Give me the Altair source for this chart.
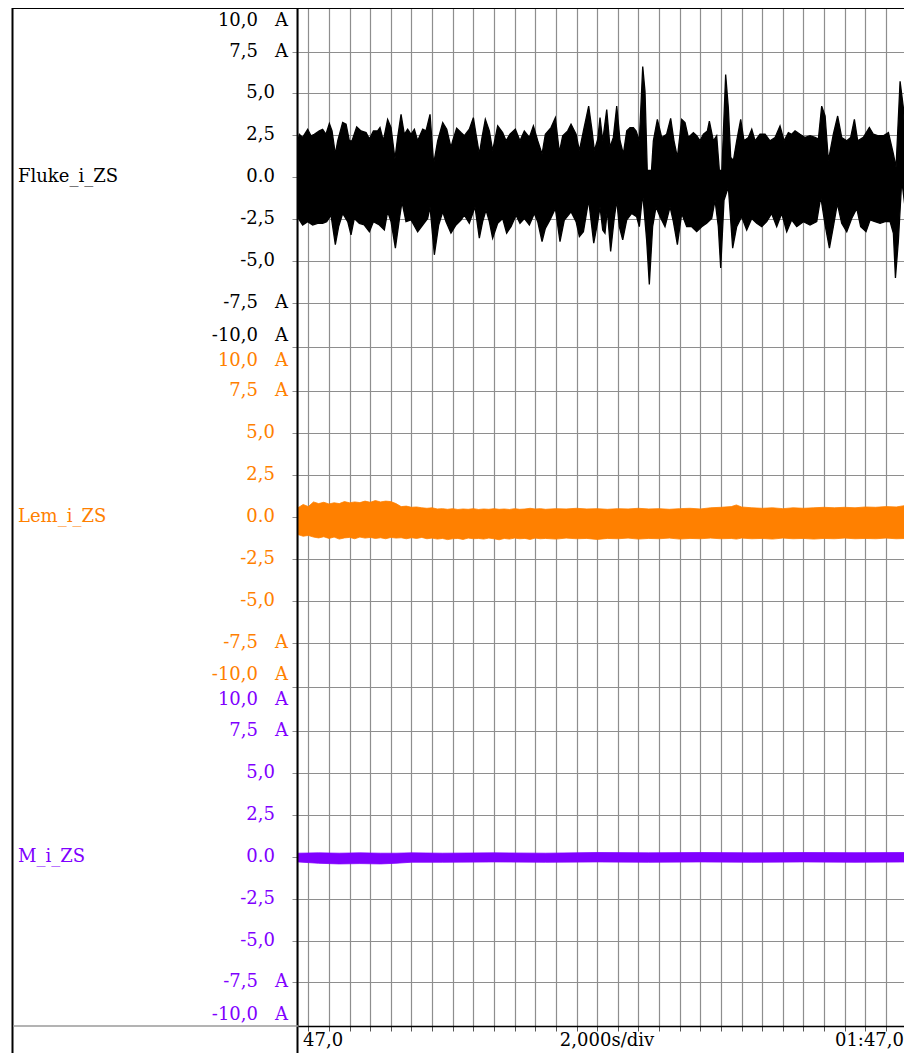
import altair as alt
import pandas as pd

FONT = "DejaVu Serif"
FS = 18
GRID = "#8e8e8e"

# ---------------- channels / layout ----------------
channel_names = ["Fluke_i_ZS", "Lem_i_ZS", "M_i_ZS"]
channel_colors = ["#000000", "#FF8000", "#8000FF"]
panel_zero = [50.7, 30.4, 10.1]      # stacked panels on one shared y scale
panel_bounds = [40.55, 20.25]
Y_TOP = 60.8
T_START, T_END = 46.0, 104.75        # seconds (visible window)
grid_times = list(range(47, 105, 2))  # 2 s / div

tick_values = [10, 7.5, 5, 2.5, 0, -2.5, -5, -7.5, -10]
tick_labels = ["10,0", "7,5", "5,0", "2,5", "0.0", "-2,5", "-5,0", "-7,5", "-10,0"]
unit_label = "A"
x_labels = ["47,0", "2,000s/div", "01:47,0"]

# ---------------- Fluke_i_ZS envelope (time s, current A) ----------------
fluke_upper = [
    (46.0, 2.2), (46.13, 2.56), (46.45, 2.37), (46.94, 2.86), (47.26, 2.47), (47.58, 2.56),
    (48.07, 2.76), (48.39, 2.86), (48.71, 2.56), (49.04, 3.20), (49.30, 2.76), (49.62, 1.38),
    (49.85, 2.17), (50.33, 3.26), (50.66, 3.16), (50.98, 2.17), (51.24, 2.17), (51.69, 3.00),
    (52.11, 2.76), (52.60, 2.66), (52.92, 2.27), (53.31, 2.76), (53.72, 2.76), (53.95, 2.96),
    (54.27, 2.17), (54.69, 3.45), (55.02, 2.96), (55.40, 1.09), (55.66, 2.37), (55.99, 3.75),
    (56.31, 2.56), (56.63, 2.86), (56.96, 2.56), (57.28, 2.86), (57.60, 2.17), (58.09, 2.86),
    (58.41, 2.76), (58.80, 3.75), (59.15, 0.79), (59.54, 2.17), (60.03, 3.26), (60.42, 2.86),
    (60.83, 1.78), (61.00, 2.17), (61.38, 2.92), (61.80, 2.66), (62.13, 2.47), (62.61, 2.86),
    (63.00, 3.55), (63.26, 2.56), (63.58, 1.38), (63.84, 2.37), (64.16, 3.45), (64.55, 2.76),
    (64.87, 1.58), (65.36, 3.06), (65.84, 2.66), (66.17, 2.17), (66.55, 2.56), (67.07, 2.86),
    (67.52, 2.17), (67.94, 2.76), (68.43, 2.37), (68.82, 3.06), (69.24, 2.17), (69.66, 1.38),
    (69.98, 2.56), (70.53, 2.96), (70.95, 3.55), (71.34, 1.48), (71.66, 2.47), (72.15, 2.76),
    (72.47, 3.16), (72.96, 2.56), (73.28, 1.58), (73.67, 2.76), (74.18, 4.24), (74.51, 2.76),
    (74.73, 1.58), (75.06, 2.27), (75.28, 3.55), (75.54, 2.17), (75.93, 4.04), (76.25, 1.78),
    (76.57, 2.37), (76.90, 4.24), (77.22, 2.17), (77.54, 1.38), (77.87, 2.76), (78.19, 2.96),
    (78.51, 2.96), (78.77, 2.76), (79.09, 2.17), (79.42, 6.61), (79.64, 5.13), (79.87, 0.20),
    (80.13, -0.99), (80.45, 2.17), (80.84, 3.45), (81.26, 2.37), (81.74, 2.56), (82.13, 3.51),
    (82.45, 2.17), (82.78, 1.18), (83.20, 3.45), (83.52, 3.26), (83.84, 2.37), (84.33, 2.66),
    (84.65, 2.47), (84.98, 2.17), (85.30, 2.56), (85.69, 2.76), (85.88, 3.35), (86.27, 2.17),
    (86.59, 2.47), (86.85, 0.39), (87.08, 0.20), (87.46, 6.12), (87.72, 4.14), (87.95, 1.18),
    (88.21, 0.99), (88.53, 2.17), (88.92, 3.45), (89.24, 2.17), (89.66, 2.37), (89.99, 2.86),
    (90.31, 2.17), (90.79, 2.56), (91.28, 2.56), (91.76, 2.17), (92.25, 2.37), (92.73, 3.06),
    (93.12, 2.17), (93.54, 2.66), (93.86, 2.56), (94.19, 2.76), (94.67, 2.56), (95.16, 2.37),
    (95.64, 2.47), (96.13, 2.37), (96.45, 2.27), (96.77, 4.24), (97.10, 3.65), (97.42, 0.99),
    (97.90, 2.56), (98.32, 3.65), (98.71, 2.37), (99.20, 2.17), (99.58, 2.37), (99.94, 3.45),
    (100.26, 2.17), (100.81, 2.37), (101.39, 2.96), (101.78, 2.56), (102.27, 2.47), (102.75, 2.47),
    (103.24, 2.66), (103.72, 1.38), (103.98, 0.59), (104.37, 5.72), (104.69, 4.14), (104.95, 0.99),
    (105.34, 1.97), (105.53, 2.17),
]
fluke_lower = [
    (46.0, -2.4), (46.13, -2.56), (46.45, -2.86), (46.94, -2.66), (47.42, -2.86), (47.91, -2.76),
    (48.39, -2.76), (48.78, -2.66), (49.20, -2.27), (49.62, -4.04), (49.94, -2.96), (50.33, -2.17),
    (50.82, -2.66), (51.14, -3.45), (51.46, -2.47), (51.95, -2.76), (52.43, -2.86), (52.92, -3.26),
    (53.31, -2.66), (53.89, -2.86), (54.37, -3.16), (54.69, -2.07), (55.02, -2.66), (55.44, -4.24),
    (55.82, -2.56), (56.08, -1.48), (56.47, -2.66), (56.96, -2.56), (57.60, -3.26), (58.09, -2.86),
    (58.57, -2.47), (58.80, -1.78), (59.22, -4.64), (59.64, -2.86), (60.03, -2.07), (60.35, -2.66),
    (60.83, -3.35), (61.32, -2.86), (61.80, -2.56), (62.13, -2.27), (62.61, -2.76), (63.16, -1.78),
    (63.58, -3.65), (63.90, -2.66), (64.23, -1.97), (64.55, -2.66), (64.87, -3.65), (65.36, -2.76),
    (65.84, -2.47), (66.23, -3.35), (66.65, -2.96), (67.14, -2.27), (67.52, -2.76), (67.94, -2.47),
    (68.43, -2.86), (68.91, -2.17), (69.24, -2.66), (69.66, -3.85), (69.98, -3.06), (70.43, -2.56),
    (70.95, -1.87), (71.40, -3.85), (71.82, -2.56), (72.47, -2.07), (72.96, -2.66), (73.28, -3.55),
    (73.67, -3.26), (74.18, -1.38), (74.67, -3.95), (75.06, -2.66), (75.28, -1.78), (75.54, -3.16),
    (75.76, -3.35), (75.99, -1.97), (76.31, -4.44), (76.64, -2.56), (76.90, -1.38), (77.15, -2.96),
    (77.48, -3.75), (77.87, -2.56), (78.35, -2.17), (78.83, -2.37), (79.09, -2.96), (79.42, -0.99),
    (79.80, -3.75), (80.06, -6.41), (80.38, -2.96), (80.71, -1.78), (81.10, -2.37), (81.58, -2.96),
    (82.07, -1.78), (82.39, -2.66), (82.78, -4.04), (83.20, -2.17), (83.68, -2.96), (84.17, -2.96),
    (84.65, -3.26), (85.14, -2.96), (85.62, -2.76), (86.11, -2.47), (86.43, -1.38), (86.75, -2.96),
    (86.98, -5.43), (87.30, -1.38), (87.72, -0.59), (88.14, -4.24), (88.53, -2.96), (89.01, -2.37),
    (89.50, -3.16), (89.99, -2.47), (90.47, -2.76), (90.96, -2.96), (91.44, -2.66), (91.92, -2.17),
    (92.41, -2.96), (92.89, -2.17), (93.38, -3.26), (93.86, -2.56), (94.35, -2.96), (95.00, -2.66),
    (95.64, -2.86), (96.29, -2.66), (96.68, -1.18), (97.10, -2.86), (97.52, -4.24), (97.90, -2.96),
    (98.29, -1.58), (98.71, -2.76), (99.20, -3.26), (99.68, -2.47), (100.17, -1.87), (100.55, -2.96),
    (101.07, -3.26), (101.46, -2.56), (101.94, -2.66), (102.43, -2.76), (102.91, -2.66), (103.40, -2.66),
    (103.72, -3.35), (103.92, -6.02), (104.21, -3.75), (104.53, -0.20), (104.85, -1.78), (105.18, -4.14),
    (105.53, -3.75),
]

# ---------------- Lem_i_ZS band (time, upper, lower) ----------------
lem_band = [
    (46.0, 0.55, -1.05), (46.5, 0.75, -1.15), (47.0, 0.62, -1.10), (47.5, 0.90, -1.20),
    (48.0, 0.80, -1.25), (48.5, 0.88, -1.18), (49.0, 0.78, -1.28), (49.5, 0.85, -1.20),
    (50.0, 0.80, -1.32), (50.5, 0.92, -1.25), (51.0, 0.85, -1.22), (51.5, 0.90, -1.30),
    (52.0, 0.86, -1.20), (52.5, 0.95, -1.26), (53.0, 0.88, -1.22), (53.5, 0.98, -1.28),
    (54.0, 0.90, -1.24), (54.5, 0.95, -1.30), (55.0, 0.92, -1.22), (55.5, 0.80, -1.26),
    (56.0, 0.62, -1.24), (56.5, 0.65, -1.30), (57.0, 0.58, -1.24), (57.5, 0.60, -1.28),
    (58.0, 0.55, -1.22), (58.5, 0.52, -1.30), (59.0, 0.55, -1.26), (59.5, 0.48, -1.32),
    (60.0, 0.50, -1.28), (60.5, 0.46, -1.35), (61.0, 0.50, -1.30), (61.5, 0.45, -1.28),
    (62.0, 0.48, -1.34), (62.5, 0.46, -1.26), (63.0, 0.50, -1.30), (63.5, 0.45, -1.28),
    (64.0, 0.48, -1.32), (64.5, 0.46, -1.26), (65.0, 0.50, -1.30), (65.5, 0.46, -1.36),
    (66.0, 0.48, -1.28), (66.5, 0.45, -1.32), (67.0, 0.50, -1.26), (67.5, 0.46, -1.30),
    (68.0, 0.48, -1.28), (68.5, 0.52, -1.34), (69.0, 0.48, -1.26), (69.5, 0.50, -1.30),
    (70.0, 0.46, -1.28), (71.0, 0.50, -1.32), (72.0, 0.48, -1.26), (73.0, 0.52, -1.30),
    (74.0, 0.48, -1.28), (75.0, 0.50, -1.34), (76.0, 0.46, -1.28), (77.0, 0.50, -1.30),
    (78.0, 0.48, -1.26), (79.0, 0.52, -1.32), (80.0, 0.48, -1.28), (81.0, 0.50, -1.30),
    (82.0, 0.46, -1.26), (83.0, 0.50, -1.32), (84.0, 0.52, -1.28), (85.0, 0.48, -1.30),
    (86.0, 0.55, -1.26), (87.0, 0.58, -1.30), (88.0, 0.62, -1.28), (88.5, 0.72, -1.32),
    (89.0, 0.60, -1.26), (90.0, 0.55, -1.30), (91.0, 0.52, -1.28), (92.0, 0.55, -1.32),
    (93.0, 0.50, -1.26), (94.0, 0.55, -1.30), (95.0, 0.52, -1.28), (96.0, 0.55, -1.32),
    (97.0, 0.58, -1.28), (98.0, 0.55, -1.30), (99.0, 0.58, -1.26), (100.0, 0.55, -1.30),
    (101.0, 0.60, -1.28), (102.0, 0.58, -1.30), (103.0, 0.62, -1.26), (104.0, 0.60, -1.30),
    (105.0, 0.70, -1.28), (105.53, 0.62, -1.26),
]

# ---------------- M_i_ZS band (time, upper, lower) ----------------
m_band = [
    (46.0, 0.22, -0.30), (48.0, 0.24, -0.38), (50.0, 0.22, -0.42), (52.0, 0.24, -0.40),
    (54.0, 0.22, -0.42), (55.5, 0.22, -0.38), (57.0, 0.24, -0.32), (60.0, 0.22, -0.32),
    (65.0, 0.24, -0.30), (70.0, 0.22, -0.32), (75.0, 0.26, -0.30), (80.0, 0.24, -0.32),
    (85.0, 0.26, -0.30), (90.0, 0.24, -0.32), (95.0, 0.26, -0.30), (100.0, 0.25, -0.32),
    (105.53, 0.26, -0.30),
]

# ---------------- tables ----------------
z0, z1, z2 = panel_zero
df_up = pd.DataFrame(fluke_upper, columns=["t", "v"])
df_up["g"] = df_up["v"] + z0
df_up["base"] = z0 - 0.4
df_lo = pd.DataFrame(fluke_lower, columns=["t", "v"])
df_lo["g"] = df_lo["v"] + z0
df_lo["base"] = z0 + 0.4
df_lem = pd.DataFrame(lem_band, columns=["t", "hi", "lo"])
df_lem["ghi"] = df_lem["hi"] + z1
df_lem["glo"] = df_lem["lo"] + z1
df_m = pd.DataFrame(m_band, columns=["t", "hi", "lo"])
df_m["ghi"] = df_m["hi"] + z2
df_m["glo"] = df_m["lo"] + z2

rows = []
for name, col, z in zip(channel_names, channel_colors, panel_zero):
    for v, lab in zip(tick_values, tick_labels):
        kind = "top" if v == 10 else ("bot" if v == -10 else ("unit" if abs(v) == 7.5 else "mid"))
        rows.append({"g": z + v, "text": lab, "col": col, "kind": kind})
df_lab = pd.DataFrame(rows)
df_names = pd.DataFrame({"name": channel_names, "col": channel_colors, "g": panel_zero})

y_grid = sorted([z + v for z in panel_zero for v in (-7.5, -5, -2.5, 0, 2.5, 5, 7.5)] + panel_bounds)

W, H = 606, 1018
xs = alt.Scale(domain=[T_START, T_END], nice=False, zero=False)
ys = alt.Scale(domain=[0, Y_TOP], nice=False, zero=False)
xaxis = alt.Axis(values=grid_times, grid=True, gridColor=GRID, gridWidth=1.2, ticks=True,
                 tickSize=5, tickColor="#555555", labels=False, title=None, domain=True,
                 domainColor="#000000", domainWidth=1.5)
yaxis = alt.Axis(values=y_grid, grid=True, gridColor=GRID, gridWidth=1.2, ticks=True,
                 tickSize=6, tickColor=GRID, labels=False, title=None, domain=False)


def X(f):
    return alt.X(f, type="quantitative", scale=xs, axis=xaxis)


def Y(f):
    return alt.Y(f, type="quantitative", scale=ys, axis=yaxis)


def band(df, col, yf, y2f, sw):
    return alt.Chart(df).mark_area(color=col, interpolate="linear", clip=True,
                                   stroke=col, strokeWidth=sw).encode(
        x=X("t"), y=Y(yf), y2=alt.Y2(y2f))


black_up = band(df_up, channel_colors[0], "g", "base", 1.3)
black_lo = band(df_lo, channel_colors[0], "g", "base", 1.3)
lem = band(df_lem, channel_colors[1], "ghi", "glo", 0.8)
mm = band(df_m, channel_colors[2], "ghi", "glo", 0.8)


def txt(df, xpix, align, dy=0, text_field="text", const=None):
    enc = dict(x=alt.value(xpix), y=Y("g"), color=alt.Color("col:N", scale=None))
    if const is None:
        enc["text"] = alt.Text(text_field + ":N")
    else:
        enc["text"] = alt.value(const)
    return alt.Chart(df).mark_text(align=align, baseline="middle", font=FONT, fontSize=FS,
                                   dy=dy).encode(**enc)


lab_mid = txt(df_lab[df_lab.kind == "mid"], -23, "right")
lab_unit = txt(df_lab[df_lab.kind == "unit"], -40, "right")
lab_top = txt(df_lab[df_lab.kind == "top"], -40, "right", dy=11)
lab_bot = txt(df_lab[df_lab.kind == "bot"], -40, "right", dy=-9)
a_unit = txt(df_lab[df_lab.kind == "unit"], -10, "right", const=unit_label)
a_top = txt(df_lab[df_lab.kind == "top"], -10, "right", dy=11, const=unit_label)
a_bot = txt(df_lab[df_lab.kind == "bot"], -10, "right", dy=-9, const=unit_label)
names = txt(df_names, -280, "left", text_field="name")

one = pd.DataFrame({"k": [0]})


def rule(x, x2, y, y2, color, w):
    return alt.Chart(one).mark_rule(color=color, strokeWidth=w).encode(
        x=alt.value(x), x2=alt.value(x2), y=alt.value(y), y2=alt.value(y2))


top_border = rule(-285, W, 0, 0, "#000000", 2)
left_frame = rule(-285.5, -285.5, 0, 1045, "#000000", 2)
plot_left = rule(-0.5, -0.5, 0, 1045, "#000000", 2)
bottom_gray = rule(-285, 0, H, H, "#9a9a9a", 1.5)


def xlabel(text, xpix, align):
    return alt.Chart(one).mark_text(align=align, baseline="middle", font=FONT, fontSize=FS,
                                    color="#000000").encode(
        x=alt.value(xpix), y=alt.value(1033), text=alt.value(text))


xl1 = xlabel(x_labels[0], 5, "left")
xl2 = xlabel(x_labels[1], 309, "center")
xl3 = xlabel(x_labels[2], W, "right")

chart = alt.layer(
    black_up, black_lo, lem, mm,
    lab_mid, lab_unit, lab_top, lab_bot, a_unit, a_top, a_bot, names,
    top_border, left_frame, plot_left, bottom_gray, xl1, xl2, xl3,
).properties(
    width=W, height=H,
    padding={"left": 290, "top": 0, "right": 0, "bottom": 27},
    autosize=alt.AutoSizeParams(type="none"),
).configure_view(strokeWidth=0).configure(background="#ffffff")

chart.save("out.html", embed_options={"renderer": "svg", "actions": False})
